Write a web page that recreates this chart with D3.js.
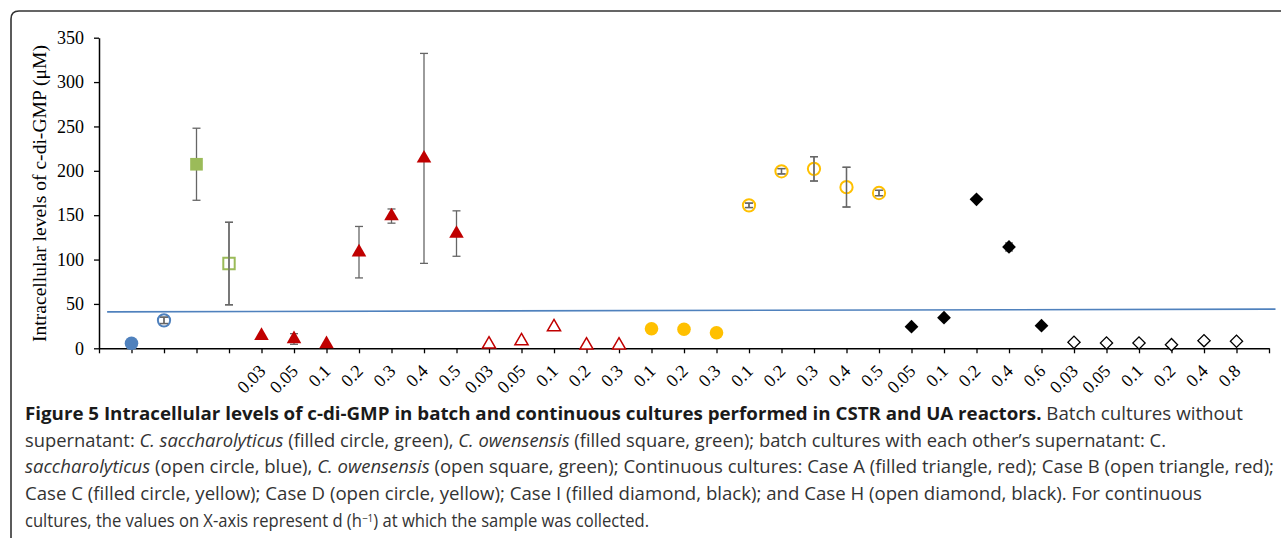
<!DOCTYPE html>
<html>
<head>
<meta charset="utf-8">
<script src="https://cdn.jsdelivr.net/npm/d3@7"></script>
<style>
  body { margin: 0; background: #fff; }
  svg { display: block; }
</style>
</head>
<body>
<svg id="chart" width="1281" height="538"></svg>
<script>
// category labels along the x axis (position 1..35), batch cultures have none
let xLabels = ["", "", "", "",
    "0.03", "0.05", "0.1", "0.2", "0.3", "0.4", "0.5",
    "0.03", "0.05", "0.1", "0.2", "0.3",
    "0.1", "0.2", "0.3",
    "0.1", "0.2", "0.3", "0.4", "0.5",
    "0.05", "0.1", "0.2", "0.4", "0.6",
    "0.03", "0.05", "0.1", "0.2", "0.4", "0.8"];

let yTicks = [0, 50, 100, 150, 200, 250, 300, 350];

// batch cultures
let sacchBatch = [5.6];      let sacchBatchErr = [0];
let sacchSuper = [31.5];     let sacchSuperErr = [3.6];
let owenBatch = [207.4];     let owenBatchErr = [40.6];
let owenSuper = [95.5];      let owenSuperErr = [46.5];

// continuous cultures
let caseA = [14.2, 10.5, 4.8, 108.3, 149, 214, 129.3];
let caseAErr = [0, 6, 0, 29, 8, 118.3, 25.6];
let caseB = [4.5, 8.2, 24, 3.4, 3.4];
let caseC = [22.1, 21.4, 17.6];
let caseD = [161.1, 199.5, 202.2, 181.6, 175];
let caseDErr = [2.5, 3, 13.7, 22.4, 3];
let caseI = [24.4, 34.5, 167.9, 114.2, 25.5];
let caseIErr = [0, 0, 0, 4.5, 0];
let caseH = [6.8, 6.0, 6.0, 4.1, 8.6, 7.9];

// blue line across the plot
let lineX = [0.25, 36.2];
let lineY = [41.1, 44.2];

let captionLines = [
    [{t: "Figure 5 Intracellular levels of c-di-GMP in batch and continuous cultures performed in CSTR and UA reactors.", b: true},
     {t: " Batch cultures without"}],
    [{t: "supernatant: "}, {t: "C. saccharolyticus", i: true}, {t: " (filled circle, green), "},
     {t: "C. owensensis", i: true}, {t: " (filled square, green); batch cultures with each other\u2019s supernatant: C."}],
    [{t: "saccharolyticus", i: true}, {t: " (open circle, blue), "}, {t: "C. owensensis", i: true},
     {t: " (open square, green); Continuous cultures: Case A (filled triangle, red); Case B (open triangle, red);"}],
    [{t: "Case C (filled circle, yellow); Case D (open circle, yellow); Case I (filled diamond, black); and Case H (open diamond, black). For continuous"}],
    [{t: "cultures, the values on X-axis represent d (h"}, {t: "\u22121", sup: true}, {t: ") at which the sample was collected."}]
];
let captionWidths = [1218, 1141, 1249, 1177, 624];

// build a series table: start position on the axis, values, errors, style
function makeSeries(start, values, errs, style){
    return values.map(function(v, i){
        return {x: start + i, y: v, e: errs ? errs[i] : 0, style: style};
    });
}

let points = [].concat(
    makeSeries(1, sacchBatch, sacchBatchErr, "blueFill"),
    makeSeries(2, sacchSuper, sacchSuperErr, "blueOpen"),
    makeSeries(3, owenBatch, owenBatchErr, "greenFill"),
    makeSeries(4, owenSuper, owenSuperErr, "greenOpen"),
    makeSeries(5, caseA, caseAErr, "redFill"),
    makeSeries(12, caseB, null, "redOpen"),
    makeSeries(17, caseC, null, "yellowFill"),
    makeSeries(20, caseD, caseDErr, "yellowOpen"),
    makeSeries(25, caseI, caseIErr, "blackFill"),
    makeSeries(30, caseH, null, "blackOpen")
);

let styles = {
    blueFill:   {shape: d3.symbolCircle, size: 145, fill: "#4F81BD", stroke: "none", sw: 0},
    blueOpen:   {shape: d3.symbolCircle, size: 118, fill: "none", stroke: "#4F81BD", sw: 2},
    greenFill:  {shape: d3.symbolSquare, size: 160, fill: "#9BBB59", stroke: "none", sw: 0},
    greenOpen:  {shape: d3.symbolSquare, size: 130, fill: "none", stroke: "#9BBB59", sw: 2},
    redFill:    {shape: d3.symbolTriangle, size: 92, fill: "#C00000", stroke: "none", sw: 0},
    redOpen:    {shape: d3.symbolTriangle, size: 75, fill: "#fff", stroke: "#C00000", sw: 1.5},
    yellowFill: {shape: d3.symbolCircle, size: 145, fill: "#FFC000", stroke: "none", sw: 0},
    yellowOpen: {shape: d3.symbolCircle, size: 118, fill: "none", stroke: "#FFC000", sw: 2},
    blackFill:  {shape: d3.symbolSquare, size: 95, fill: "#000", stroke: "none", sw: 0, rot: 45},
    blackOpen:  {shape: d3.symbolSquare, size: 75, fill: "#fff", stroke: "#000", sw: 1.3, rot: 45}
};

let svg = d3.select("#chart");

// frame round the figure
svg.append("path")
    .attr("d", "M1290,11 H19 Q11,11 11,19 V545")
    .attr("fill", "none")
    .attr("stroke", "#333")
    .attr("stroke-width", 1.6);

let x = d3.scaleLinear().domain([0, 36]).range([99, 1269]);
let y = d3.scaleLinear().domain([0, 350]).range([348.3, 37.7]);

let serif = "'Liberation Serif', 'Times New Roman', serif";

// y axis
let yAxis = svg.append("g")
    .attr("transform", "translate(99,0)")
    .call(d3.axisLeft(y).tickValues(yTicks).tickSize(5).tickPadding(10).tickSizeOuter(0));
yAxis.select(".domain").attr("stroke", "#000").attr("stroke-width", 1.5);
yAxis.selectAll(".tick line").attr("stroke", "#000").attr("stroke-width", 1.3);
yAxis.selectAll(".tick text")
    .attr("font-family", serif)
    .attr("font-size", 18)
    .attr("fill", "#000");

// x axis with a tick at every position
let xAxis = svg.append("g")
    .attr("transform", "translate(0," + y(0) + ")")
    .call(d3.axisBottom(x).tickValues(d3.range(0, 37)).tickSize(5).tickSizeOuter(0).tickFormat(""));
xAxis.select(".domain").attr("stroke", "#000").attr("stroke-width", 1.5);
xAxis.selectAll(".tick line").attr("stroke", "#000").attr("stroke-width", 1.3);

svg.append("g").selectAll("text")
    .data(xLabels)
    .enter()
    .append("text")
    .attr("transform", function(d, i){ return "translate(" + (x(i + 1) + 1) + ",368) rotate(-45)"; })
    .attr("text-anchor", "end")
    .attr("dy", "0.33em")
    .attr("font-family", serif)
    .attr("font-size", 18)
    .attr("fill", "#000")
    .text(function(d){ return d; });

// y axis title
svg.append("text")
    .attr("transform", "translate(40,193.5) rotate(-90)")
    .attr("text-anchor", "middle")
    .attr("dy", "0.32em")
    .attr("font-family", serif)
    .attr("font-size", 18)
    .attr("textLength", 297)
    .attr("lengthAdjust", "spacingAndGlyphs")
    .attr("fill", "#000")
    .text("Intracellular levels of c-di-GMP (\u03bcM)");

// blue line
svg.append("line")
    .attr("x1", x(lineX[0])).attr("y1", y(lineY[0]))
    .attr("x2", x(lineX[1])).attr("y2", y(lineY[1]))
    .attr("stroke", "#4F81BD")
    .attr("stroke-width", 1.6);

// error bars behind the markers
let bars = points.filter(function(p){ return p.e > 0; });
function drawBars(g, data){
    data.forEach(function(d){
        g.append("line").attr("x1", x(d.x)).attr("x2", x(d.x)).attr("y1", y(d.y + d.e)).attr("y2", y(d.y - d.e));
        g.append("line").attr("x1", x(d.x) - 4).attr("x2", x(d.x) + 4).attr("y1", y(d.y + d.e)).attr("y2", y(d.y + d.e));
        g.append("line").attr("x1", x(d.x) - 4).attr("x2", x(d.x) + 4).attr("y1", y(d.y - d.e)).attr("y2", y(d.y - d.e));
    });
}
drawBars(svg.append("g").attr("stroke", "#666").attr("stroke-width", 1.3), bars);

// markers
svg.append("g").selectAll("path")
    .data(points)
    .enter()
    .append("path")
    .attr("transform", function(d){
        let s = styles[d.style];
        return "translate(" + x(d.x) + "," + y(d.y) + ")" + (s.rot ? " rotate(" + s.rot + ")" : "");
    })
    .attr("d", function(d){ let s = styles[d.style]; return d3.symbol(s.shape, s.size)(); })
    .attr("fill", function(d){ return styles[d.style].fill; })
    .attr("stroke", function(d){ return styles[d.style].stroke; })
    .attr("stroke-width", function(d){ return styles[d.style].sw; });

// open markers get their error bars drawn over again so they show through
let openBars = bars.filter(function(p){ return styles[p.style].fill === "none"; });
drawBars(svg.append("g").attr("stroke", "#666").attr("stroke-width", 1.3), openBars);

// caption
let cap = svg.append("g")
    .attr("font-family", "'Open Sans', 'Noto Sans', sans-serif")
    .attr("font-size", 17.5)
    .attr("fill", "#333");

captionLines.forEach(function(line, li){
    let t = cap.append("text")
        .attr("x", 25)
        .attr("y", 420 + li * 26.7)
        .attr("textLength", captionWidths[li])
        .attr("lengthAdjust", "spacingAndGlyphs");
    line.forEach(function(part){
        let ts = t.append("tspan").text(part.t);
        if(part.b){ ts.attr("font-weight", "bold").attr("fill", "#1a1a1a"); }
        if(part.i){ ts.attr("font-style", "italic"); }
        if(part.sup){ ts.attr("font-size", 10.5).attr("baseline-shift", "5"); }
    });
});
</script>
</body>
</html>
